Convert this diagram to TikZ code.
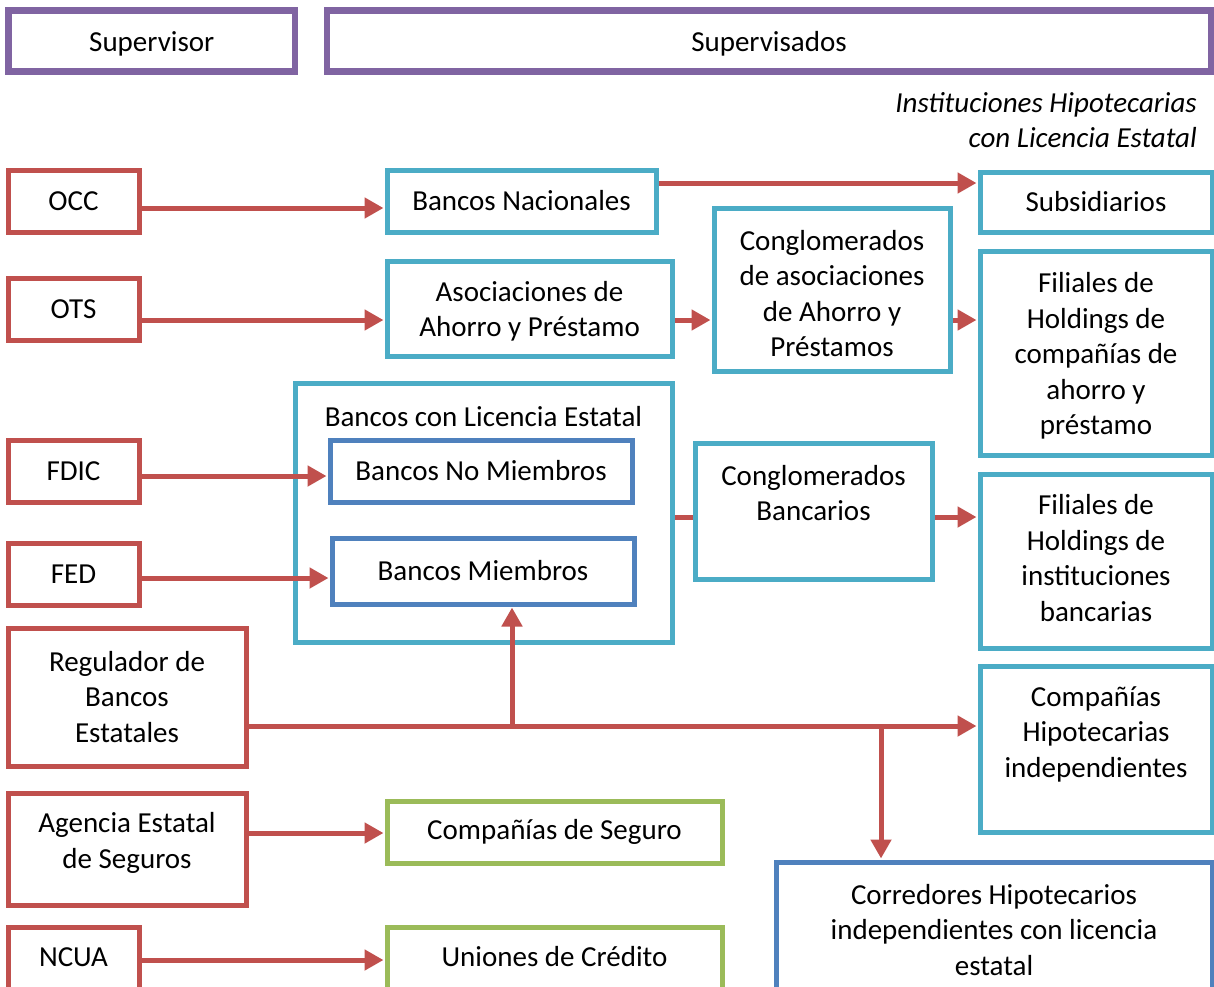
\documentclass[tikz,border=0pt]{standalone}
\usepackage{fontspec}
\setmainfont{Carlito}
\usetikzlibrary{arrows.meta,fit}
\definecolor{cpurple}{HTML}{8064A2}
\definecolor{cred}{HTML}{C0504D}
\definecolor{cteal}{HTML}{4BACC6}
\definecolor{cblue}{HTML}{4F81BD}
\definecolor{cgreen}{HTML}{9BBB59}
\tikzset{
  bx/.style={draw=#1, line width=5pt, inner sep=0pt, fill=white},
  hdr/.style={bx=cpurple, line width=6.5pt},
  sup/.style={bx=cred},
  org/.style={bx=cteal},
  mem/.style={bx=cblue},
  ins/.style={bx=cgreen},
  txt/.style={align=center, inner sep=0pt},
  arr/.style={draw=cred, line width=5pt, -{Triangle[length=19pt,width=20pt]}, shorten >=1pt},
  lnk/.style={draw=cred, line width=5pt},
}
% #1 text offset, #2 style, #3 corners, #4 name, #5 text
\newcommand\mybox[5][(0,0)]{%
  \node[#2, fit=#3] (#4) {};
  \node[txt] (#4t) at ($(#4.center)+#1$) {#5};}
\usetikzlibrary{calc}
\begin{document}
\begin{tikzpicture}[x=1pt,y=-1pt,font=\fontsize{29}{35.5}\selectfont]
\useasboundingbox (0,0) rectangle (1214,986);
% header
\mybox[(0,3)]{hdr}{{(8.5,10.5) (295,71.5)}}{hsup}{Supervisor}
\mybox[(0,3)]{hdr}{{(327,10.5) (1211,71.5)}}{hsvd}{Supervisados}
\node[txt, anchor=east, font=\fontsize{29}{35.5}\selectfont\itshape] (ihl) at (1197,123) {\begin{tabular}{@{}r@{}}Instituciones Hipotecarias\\[-0.5pt]con Licencia Estatal\end{tabular}};
% supervisors
\mybox{sup}{{(8,170) (139,232)}}{occ}{OCC}
\mybox{sup}{{(8,278) (139,340)}}{ots}{OTS}
\mybox{sup}{{(8,440) (139,502)}}{fdic}{FDIC}
\mybox{sup}{{(8,543) (139,605)}}{fed}{FED}
\mybox{sup}{{(8,628) (246,766)}}{reg}{Regulador de\\Bancos\\Estatales}
\mybox[(0,-6)]{sup}{{(8,793) (246,905)}}{age}{Agencia Estatal\\de Seguros}
\mybox[(0,-1)]{sup}{{(8,927) (139,990)}}{ncua}{NCUA}
% supervised
\mybox{org}{{(387,170) (656,232)}}{bn}{Bancos Nacionales}
\mybox[(0,3)]{org}{{(387,261) (672,356)}}{aap}{Asociaciones de\\Ahorro y Préstamo}
\mybox[(0,4)]{org}{{(714,208) (950,371)}}{caap}{Conglomerados\\de asociaciones\\de Ahorro y\\Préstamos}
\mybox{org}{{(980,172) (1212,232)}}{subs}{Subsidiarios}
\mybox[(0,3)]{org}{{(980,251) (1212,455)}}{fha}{Filiales de\\Holdings de\\compañías de\\ahorro y\\préstamo}
\mybox[(0,-96)]{org}{{(295,383) (672,642)}}{blce}{Bancos con Licencia Estatal}
\mybox{mem}{{(330,440) (632,502)}}{bnm}{Bancos No Miembros}
\mybox{mem}{{(332,538) (634,604)}}{bm}{Bancos Miembros}
\mybox[(0,-18)]{org}{{(695,443) (932,579)}}{cb}{Conglomerados\\Bancarios}
\mybox[(0,-3)]{org}{{(980,474) (1212,648)}}{fhb}{Filiales de\\Holdings de\\instituciones\\bancarias}
\mybox[(0,-15)]{org}{{(980,666) (1212,832)}}{chi}{Compañías\\Hipotecarias\\independientes}
\mybox[(0,3)]{mem}{{(776,862) (1212,992)}}{cor}{Corredores Hipotecarios\\independientes con licencia\\estatal}
\mybox{ins}{{(387,801) (722,863)}}{cs}{Compañías de Seguro}
\mybox[(0,-1)]{ins}{{(387,927) (722,989)}}{uc}{Uniones de Crédito}
% connectors
\draw[arr] ([yshift=-7pt]occ.east) -- ([yshift=-7pt]bn.west);
\draw[arr] ([yshift=18pt]bn.east) -- ([yshift=19pt]subs.west);
\draw[arr] ([yshift=-11pt]ots.east) -- ([yshift=-11.5pt]aap.west);
\draw[arr] ([yshift=-11.5pt]aap.east) -- ([yshift=-30.5pt]caap.west);
\draw[arr] ([yshift=-30.5pt]caap.east) -- ([yshift=33pt]fha.west);
\draw[arr] ([yshift=-5pt]fdic.east) -- ([yshift=-5pt]bnm.west);
\draw[arr] ([yshift=-4pt]fed.east) -- ([yshift=-7pt]bm.west);
\draw[lnk] ([yshift=-4.5pt]blce.east) -- ([yshift=-6pt]cb.west);
\draw[arr] ([yshift=-6pt]cb.east) -- ([yshift=44pt]fhb.west);
\coordinate (j1) at (512,726);
\coordinate (j2) at (881,726);
\draw[arr] ([yshift=-29pt]reg.east) -- ([yshift=23pt]chi.west);
\draw[arr] (j1) -- (bm.south -| j1);
\draw[arr] (j2) -- (cor.north -| j2);
\draw[arr] ([yshift=16pt]age.east) -- ([yshift=-1pt]cs.west);
\draw[arr] ([yshift=-1.5pt]ncua.east) -- ([yshift=-2pt]uc.west);
\end{tikzpicture}
\end{document}
